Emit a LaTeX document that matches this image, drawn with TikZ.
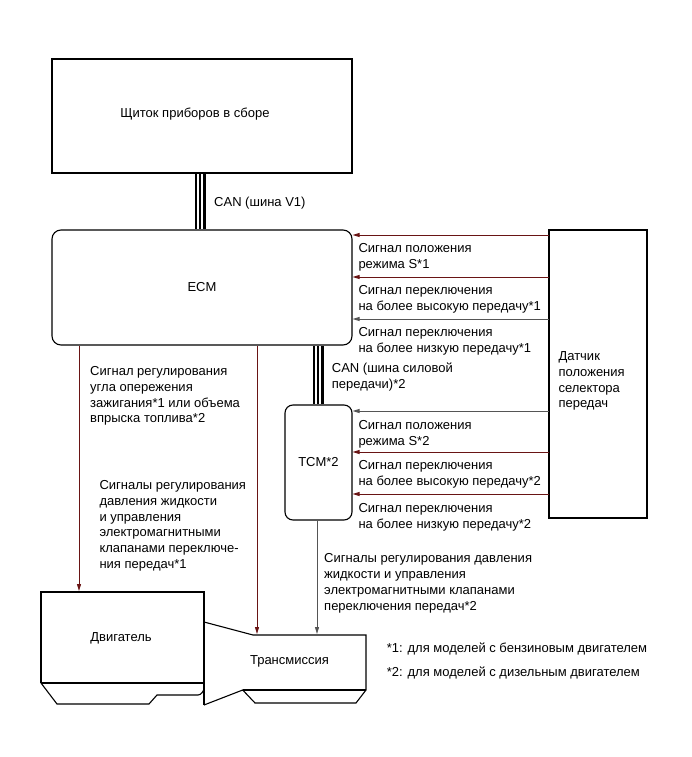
\documentclass[tikz,border=0pt]{standalone}
\usepackage{fontspec}
\setmainfont{Liberation Sans}
\usetikzlibrary{arrows.meta, positioning}
\definecolor{WireRed}{RGB}{105, 20, 20}
\definecolor{WireGray}{RGB}{85, 85, 85}
\newcommand{\capstrut}{\rule{0pt}{10.5pt}}

\begin{document}
\begin{tikzpicture}[
    x=1pt, y=-1pt,
    font=\fontsize{13}{15.8}\selectfont,
    box/.style={draw, line width=1.1pt, inner sep=0pt},
    unit/.style={box, rounded corners=9pt},
    sigtext/.style={anchor=north west, align=left, inner sep=0pt},
    wire/.style={line width=0.9pt, -{Triangle[length=7pt, width=4pt]}},
    housing/.style={line width=1.1pt, line join=miter}
]
\useasboundingbox (0,0) rectangle (691,757);

% Units
\node[box, minimum width=300pt, minimum height=114pt] (ipc) at (202,116) {};
\node[anchor=base] (ipctext) at (195,117.6) {Щиток приборов в сборе};
\node[unit, minimum width=300pt, minimum height=115pt] (ecm) at (202,287.5) {ECM};
\node[unit, rounded corners=8pt, minimum width=67pt, minimum height=115pt] (tcm) at (318.5,462.5) {TCM*2};
\node[box, minimum width=98pt, minimum height=288pt] (sel) at (598,374) {};
\node[sigtext] (seltext) at (558.3,349.8) {\capstrut Датчик\\положения\\селектора\\передач};

% CAN buses
\foreach \dx/\w in {-6/2.2, -2/1.4, 2.5/2.2}
    \draw[line width=\w pt] ([xshift=\dx pt]ipc.south) -- ([xshift=\dx pt]ipc.south |- ecm.north);
\foreach \dx/\w in {-4.5/2.2, -0.5/1.4, 4/2.2}
    \draw[line width=\w pt] ([xshift=\dx pt]tcm.north) -- ([xshift=\dx pt]tcm.north |- ecm.south);
\node[sigtext] (canv) at (214,196.1) {\capstrut CAN (шина V1)};
\node[sigtext] (canpt) at (331.7,361.5) {\capstrut CAN (шина силовой\\передачи)*2};

% Selector signals
\foreach \y/\col [count=\i] in {235/WireRed, 277/WireRed, 319/WireGray} {
    \coordinate (e\i) at (549,\y);
    \draw[wire, \col] (e\i) -- (e\i -| ecm.east);
}
\foreach \y/\col [count=\i] in {411/WireGray, 452/WireRed, 494/WireRed} {
    \coordinate (t\i) at (549,\y);
    \draw[wire, \col] (t\i) -- (t\i -| tcm.east);
}
\node[sigtext] (ecmsig1) at (358.3,242.1) {\capstrut Сигнал положения\\режима S*1};
\node[sigtext] (ecmsig2) at (358.3,283.8) {\capstrut Сигнал переключения\\на более высокую передачу*1};
\node[sigtext] (ecmsig3) at (358.3,325.5) {\capstrut Сигнал переключения\\на более низкую передачу*1};
\node[sigtext] (tcmsig1) at (358.3,418.8) {\capstrut Сигнал положения\\режима S*2};
\node[sigtext] (tcmsig2) at (358.3,458.8) {\capstrut Сигнал переключения\\на более высокую передачу*2};
\node[sigtext] (tcmsig3) at (358.3,501.8) {\capstrut Сигнал переключения\\на более низкую передачу*2};

% Engine and transmission
\draw[housing] (41,683) -- (41,592) -- (204,592) -- (204,705);
\draw[housing] (41,683) -- (204,683);
\draw[housing] (41,683) -- (57,704) -- (149,704) -- (157,695) -- (198,695)
    .. controls (201,695) and (204,691) .. (204,688);
\draw[housing] (204,622) -- (253,635) -- (366,635) -- (366,690) -- (356,703)
    -- (255,703) -- (242.7,690) -- (204,705);
\draw[housing] (242.7,690) -- (366,690);
\node[anchor=base] (engine) at (121,641) {Двигатель};
\node[anchor=base] (trans) at (289.5,664.3) {Трансмиссия};

% Control outputs
\coordinate (engtop) at (79,591);
\coordinate (trtop1) at (257,634);
\coordinate (trtop2) at (317,634);
\draw[wire, WireRed] (ecm.south -| engtop) -- (engtop);
\draw[wire, WireRed] (ecm.south -| trtop1) -- (trtop1);
\draw[wire, WireGray] (tcm.south -| trtop2) -- (trtop2);
\node[sigtext] (ignsig) at (90,364.8) {\capstrut Сигнал регулирования\\угла опережения\\зажигания*1 или объема\\впрыска топлива*2};
\node[sigtext] (ecmsol) at (99.3,478.8) {\capstrut Сигналы регулирования\\давления жидкости\\и управления\\электромагнитными\\клапанами переключе-\\ния передач*1};
\node[sigtext] (tcmsol) at (324,552.1) {\capstrut Сигналы регулирования давления\\жидкости и управления\\электромагнитными клапанами\\переключения передач*2};

% Notes
\node[sigtext] (note1) at (386.7,642.1) {\capstrut *1: для моделей с бензиновым двигателем};
\node[sigtext] (note2) at (386.7,666) {\capstrut *2: для моделей с дизельным двигателем};

\end{tikzpicture}
\end{document}
